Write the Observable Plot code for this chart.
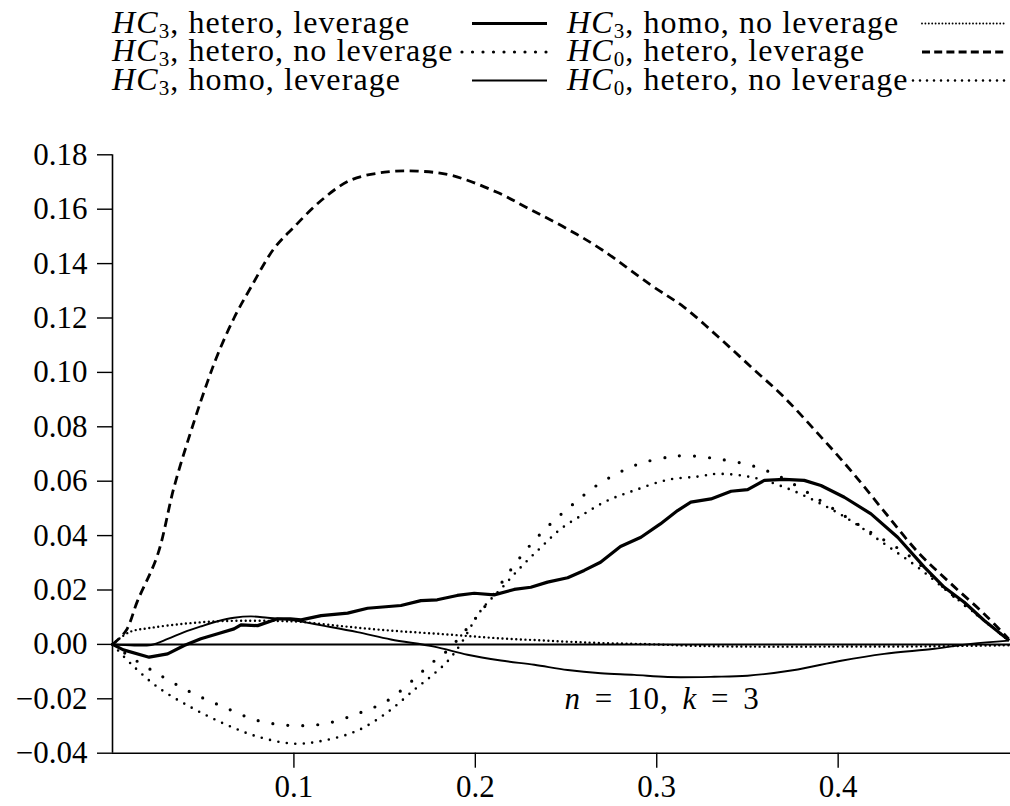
<!DOCTYPE html>
<html><head><meta charset="utf-8">
<script src="https://cdn.jsdelivr.net/npm/d3@7"></script>
<script src="https://cdn.jsdelivr.net/npm/@observablehq/plot@0.6"></script>
<style>body{margin:0;background:#fff;} svg{display:block} #chart svg, #chart svg text{font-family:'Liberation Serif','Times New Roman',serif !important;}</style>
</head><body><div id="legend"></div><div id="chart"></div>
<script>
// ---------- data ----------
const xTicks = [0.1, 0.2, 0.3, 0.4];
const yTicks = [-0.04, -0.02, 0, 0.02, 0.04, 0.06, 0.08, 0.10, 0.12, 0.14, 0.16, 0.18];

const seriesHC = ["3", "3", "3", "3", "0", "0"];
const seriesNames = ["hetero, leverage", "hetero, no leverage", "homo, leverage",
                     "homo, no leverage", "hetero, leverage", "hetero, no leverage"];

// HC3, hetero, leverage
const x_hc3_het_lev = [0, 0.006, 0.0202, 0.0304, 0.0395, 0.0487, 0.058, 0.067, 0.0708, 0.080, 0.091, 0.098, 0.104, 0.115, 0.1296, 0.1406, 0.159, 0.170, 0.179, 0.190, 0.1994, 0.2104, 0.2214, 0.2306, 0.2398, 0.2509, 0.260, 0.269, 0.280, 0.2913, 0.302, 0.3115, 0.3188, 0.3299, 0.341, 0.3501, 0.3593, 0.3703, 0.3813, 0.3905, 0.4034, 0.4181, 0.4328, 0.4475, 0.4585, 0.4695, 0.4805, 0.4943];
const y_hc3_het_lev = [0, -0.002, -0.0047, -0.0035, -0.0004, 0.0021, 0.0039, 0.0057, 0.0072, 0.0069, 0.0094, 0.0094, 0.0090, 0.0106, 0.0115, 0.0133, 0.0143, 0.0161, 0.0164, 0.018, 0.0188, 0.0182, 0.0202, 0.021, 0.0229, 0.0245, 0.0272, 0.0302, 0.036, 0.0394, 0.0443, 0.0492, 0.0523, 0.0535, 0.0563, 0.0569, 0.0603, 0.0607, 0.0603, 0.0584, 0.0541, 0.048, 0.0394, 0.0284, 0.021, 0.0155, 0.0088, 0.0014];

// HC3, hetero, no leverage
const x_hc3_het_nolev = [0, 0.0101, 0.0249, 0.0432, 0.0616, 0.080, 0.0983, 0.1167, 0.135, 0.1517, 0.1663, 0.1755, 0.1847, 0.1976, 0.2068, 0.2141, 0.2233, 0.2325, 0.2435, 0.2545, 0.2655, 0.2784, 0.2913, 0.306, 0.3152, 0.3336, 0.352, 0.3666, 0.3813, 0.396, 0.4163, 0.4401, 0.462, 0.4805, 0.494];
const y_hc3_het_nolev = [0, -0.0047, -0.0108, -0.0176, -0.0231, -0.028, -0.0298, -0.0292, -0.0255, -0.0206, -0.0127, -0.0071, -0.0022, 0.0076, 0.0153, 0.0223, 0.0308, 0.0382, 0.0456, 0.0519, 0.0578, 0.0629, 0.0666, 0.0688, 0.0694, 0.0682, 0.0658, 0.0621, 0.0566, 0.0504, 0.0419, 0.0321, 0.0186, 0.0088, 0.0014];

// HC3, homo, leverage
const x_hc3_homo_lev = [0, 0.012, 0.0212, 0.0304, 0.0395, 0.0487, 0.058, 0.067, 0.0763, 0.0855, 0.0983, 0.1167, 0.135, 0.1535, 0.1773, 0.1957, 0.2141, 0.2325, 0.2509, 0.2692, 0.2876, 0.306, 0.3317, 0.35, 0.375, 0.4016, 0.4254, 0.453, 0.473, 0.494];
const y_hc3_homo_lev = [0, -0.0004, -0.0002, 0.002, 0.0045, 0.0066, 0.0085, 0.0098, 0.0103, 0.0098, 0.009, 0.0068, 0.0045, 0.0018, -0.0008, -0.0038, -0.0059, -0.0075, -0.0094, -0.0106, -0.0112, -0.012, -0.0119, -0.0115, -0.0095, -0.006, -0.0035, -0.0016, 0.0002, 0.0014];

// HC3, homo, no leverage
const x_hc3_homo_nolev = [0, 0.0092, 0.0212, 0.0395, 0.058, 0.0763, 0.091, 0.1039, 0.1222, 0.1406, 0.159, 0.1773, 0.1957, 0.2141, 0.2325, 0.2509, 0.2692, 0.295, 0.32, 0.35, 0.4, 0.45, 0.494];
const y_hc3_homo_nolev = [0, 0.0045, 0.0061, 0.0076, 0.0085, 0.0087, 0.0086, 0.0083, 0.0070, 0.0058, 0.0048, 0.0040, 0.0031, 0.0022, 0.0016, 0.0010, 0.0005, 0.0001, -0.0005, -0.0008, -0.0008, -0.0007, -0.0003];

// HC0, hetero, leverage
const x_hc0_het_lev = [0, 0.0074, 0.0138, 0.0249, 0.034, 0.045, 0.0524, 0.058, 0.067, 0.0763, 0.089, 0.100, 0.115, 0.131, 0.150, 0.168, 0.187, 0.212, 0.23, 0.25, 0.27, 0.297, 0.315, 0.334, 0.352, 0.370, 0.389, 0.407, 0.425, 0.444, 0.462, 0.4805, 0.494];
const y_hc0_het_lev = [0, 0.005, 0.016, 0.033, 0.058, 0.082, 0.0966, 0.1066, 0.120, 0.1313, 0.1455, 0.1534, 0.1632, 0.1706, 0.1736, 0.174, 0.1724, 0.1662, 0.160, 0.153, 0.145, 0.132, 0.124, 0.113, 0.102, 0.091, 0.0774, 0.0639, 0.0492, 0.0339, 0.0224, 0.0112, 0.002];

// HC0, hetero, no leverage
const x_hc0_het_nolev = [0, 0.0101, 0.0249, 0.0432, 0.0616, 0.080, 0.1002, 0.1167, 0.135, 0.1517, 0.1663, 0.1755, 0.1847, 0.192, 0.2031, 0.2141, 0.2251, 0.2362, 0.2472, 0.26, 0.2729, 0.2876, 0.306, 0.3225, 0.3336, 0.352, 0.3703, 0.3887, 0.407, 0.4254, 0.4438, 0.462, 0.4805, 0.494];
const y_hc0_het_nolev = [0, -0.0071, -0.0157, -0.0231, -0.0292, -0.0339, -0.0365, -0.0353, -0.0317, -0.0249, -0.0167, -0.0118, -0.0062, 0.0002, 0.0125, 0.0204, 0.0284, 0.0357, 0.0425, 0.048, 0.0529, 0.0566, 0.0605, 0.0617, 0.0627, 0.0615, 0.0578, 0.0523, 0.0455, 0.037, 0.0284, 0.0186, 0.0088, 0.0014];

const annotText = ["n = 10, k = 3"];
const annotX = [0.303];
const annotY = [-0.02];

// ---------- styles ----------
const FONT = "'Liberation Serif', 'Times New Roman', serif";
const styles = [
  {strokeWidth: 3.2, dash: null, cap: "butt", legendDash: null},
  {strokeWidth: 3.2, dash: "0 15", cap: "round", legendDash: "0 10.5"},
  {strokeWidth: 1.9, dash: null, cap: "butt", legendDash: null},
  {strokeWidth: 2.4, dash: "0 4.6", cap: "round", legendDash: "0 3.4"},
  {strokeWidth: 2.8, dash: "9 5.5", cap: "butt", legendDash: "8 4.2"},
  {strokeWidth: 2.6, dash: "0 8.5", cap: "round", legendDash: "0 7"}
];
const xs = [x_hc3_het_lev, x_hc3_het_nolev, x_hc3_homo_lev, x_hc3_homo_nolev, x_hc0_het_lev, x_hc0_het_nolev];
const ys = [y_hc3_het_lev, y_hc3_het_nolev, y_hc3_homo_lev, y_hc3_homo_nolev, y_hc0_het_lev, y_hc0_het_nolev];
const curves = ["linear", "catmull-rom", "catmull-rom", "catmull-rom", "catmull-rom", "catmull-rom"];

// ---------- legend ----------
const lg = d3.select("#legend").append("svg").attr("width", 1010).attr("height", 100);
const rowMid = [23.5, 52, 80.5];
const sampleX1 = [472, 462, 472, 922, 922, 913];
const sampleX2 = [547, 547, 547, 1007, 1007, 1007];
seriesNames.forEach((name, i) => {
  const col = i < 3 ? 0 : 1, row = i % 3;
  const t = lg.append("text").attr("x", col ? 567 : 112).attr("y", rowMid[row] + 9)
    .attr("font-family", FONT).attr("font-size", 32).attr("letter-spacing", 1.1).attr("fill", "#000");
  t.append("tspan").attr("font-style", "italic").text("HC");
  t.append("tspan").attr("font-size", 21).attr("dy", 5).text(seriesHC[i]);
  t.append("tspan").attr("dy", -5).text(", " + name);
  const s = styles[i];
  const l = lg.append("line").attr("x1", sampleX1[i]).attr("x2", sampleX2[i])
    .attr("y1", rowMid[row]).attr("y2", rowMid[row])
    .attr("stroke", "#000").attr("stroke-width", i === 3 ? 1.9 : s.strokeWidth).attr("stroke-linecap", s.cap);
  if (s.legendDash) l.attr("stroke-dasharray", s.legendDash);
});

// ---------- chart ----------
const lineMarks = xs.map((xa, i) => {
  const data = xa.map((x, j) => ({x, y: ys[i][j]}));
  const s = styles[i];
  return Plot.line(data, {x: "x", y: "y", stroke: "#000", strokeWidth: s.strokeWidth,
    strokeDasharray: s.dash || undefined, strokeLinecap: s.cap, strokeLinejoin: "round", curve: curves[i]});
});
const fmt2 = d3.format(".2f");
const annot = annotText.map((t, i) => ({t, x: annotX[i], y: annotY[i]}));

const chart = Plot.plot({
  width: 1010, height: 706,
  marginLeft: 112, marginRight: 0, marginTop: 54.3, marginBottom: 53.3,
  x: {domain: [0, 0.495]},
  y: {domain: [-0.04, 0.18]},
  style: "font-family: 'Liberation Serif', 'Times New Roman', serif; font-size: 31px; color: #000; background: #fff; overflow: visible;",
  marks: [
    Plot.ruleY([0], {stroke: "#000", strokeWidth: 2}),
    Plot.axisY({ticks: yTicks, tickSize: 15, tickPadding: 10, tickFormat: fmt2, label: null, fontSize: 31, fontFamily: FONT, strokeWidth: 1.4}),
    Plot.axisX({ticks: xTicks, tickSize: 15, tickPadding: 7, tickFormat: d3.format(".1f"), label: null, fontSize: 31, fontFamily: FONT, strokeWidth: 1.4}),
    Plot.ruleX([0], {stroke: "#000", strokeWidth: 1.6}),
    Plot.ruleY([-0.04], {stroke: "#000", strokeWidth: 1.6}),
    ...lineMarks,
    Plot.text(annot, {x: "x", y: "y", text: "t", fontSize: 31, fontFamily: FONT, fill: "#000", textAnchor: "middle"})
  ]
});
document.getElementById("chart").appendChild(chart);

// italic math letters in the annotation
const annotParts = [["n", true], [" = 10, ", false], ["k", true], [" = 3", false]];
chart.querySelectorAll("text").forEach(el => {
  if (el.textContent === annotText[0]) {
    while (el.firstChild) el.removeChild(el.firstChild);
    el.setAttribute("letter-spacing", "1");
    el.setAttribute("word-spacing", "5");
    annotParts.forEach(([s, it]) => {
      const ts = document.createElementNS("http://www.w3.org/2000/svg", "tspan");
      if (it) ts.setAttribute("font-style", "italic");
      ts.textContent = s;
      el.appendChild(ts);
    });
  }
});
</script></body></html>
